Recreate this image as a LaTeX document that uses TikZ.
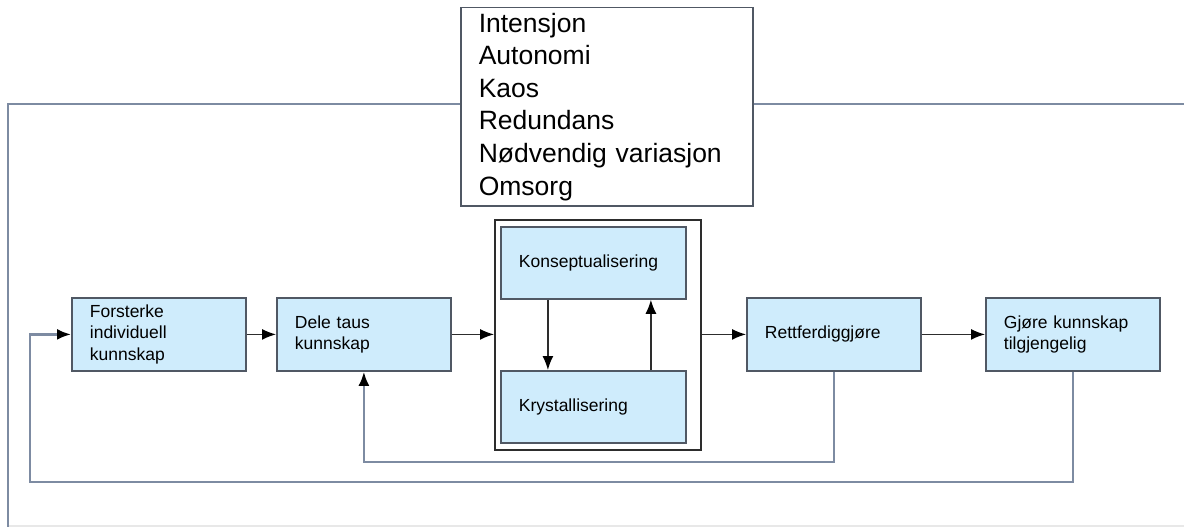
\documentclass[tikz,border=0pt]{standalone}
\usepackage{fontspec}
\setmainfont{Liberation Sans}
\usetikzlibrary{arrows.meta}
\definecolor{boxfill}{RGB}{207,236,252}
\definecolor{boxedge}{RGB}{80,88,100}
\definecolor{loopline}{RGB}{125,139,162}
\definecolor{darkline}{RGB}{45,45,45}
\begin{document}
\begin{tikzpicture}[x=1pt,y=-1pt,
  tip/.style={-{Latex[length=14pt,width=11pt,color=black]}},
  stepbox/.style={draw=boxedge, line width=1.8pt, fill=boxfill, anchor=north west,
    minimum height=73pt, text width=138pt, inner xsep=18pt, inner ysep=0pt,
    align=left, font=\fontsize{17.5}{21.5}\selectfont},
  innerbox/.style={stepbox, text width=149pt, minimum height=72pt},
  flow/.style={draw=darkline, line width=1.4pt, tip},
  loop/.style={draw=loopline, line width=2.4pt},
]
\useasboundingbox (0,0) rectangle (1184,527);

% frame corners
\coordinate (frameTL) at (8,104);
\coordinate (frameBL) at (8,527);
\coordinate (frameR) at (1184,104);
\coordinate (frameBR) at (1184,526);
\coordinate (rail) at (30,0);

% faint lower edge of the frame
\draw[gray!18, line width=1.2pt] (8,526) -- (frameBR);

% list of principles on top of the frame
\node[draw=boxedge, line width=1.5pt, fill=white, anchor=north west,
      minimum width=292pt, minimum height=198pt, text width=256pt,
      inner xsep=18pt, inner ysep=0pt, align=left,
      font=\fontsize{26.5}{32.6}\selectfont] (traits) at (460,7)
  {Intensjon\\Autonomi\\Kaos\\Redundans\\Nødvendig variasjon\\Omsorg};

\draw[loop] (traits.west |- frameTL) -- (frameTL) -- (frameBL);
\draw[loop] (traits.east |- frameR) -- (frameR);

% process steps
\node[stepbox] (b1) at (71,297) {Forsterke\\individuell\\kunnskap};
\node[stepbox] (b2) at (276,297) {Dele taus\\kunnskap};
\node[draw=darkline, line width=1.5pt, fill=white, anchor=north west,
      minimum width=206pt, minimum height=230pt, inner sep=0pt] (phase) at (494,219) {};
\node[innerbox] (b3) at (500,226) {Konseptualisering};
\node[innerbox] (b4) at (500,370) {Krystallisering};
\node[stepbox] (b5) at (746,297) {Rettferdiggjøre};
\node[stepbox] (b6) at (985,297) {Gjøre kunnskap\\tilgjengelig};

% forward flow
\draw[flow] (b1.east) -- (b2.west);
\draw[flow] (b2.east) -- (b2.east -| phase.west);
\draw[flow] (phase.east |- b5.west) -- (b5.west);
\draw[flow] (b5.east) -- (b6.west);
\draw[flow] ([xshift=-45.5pt]b3.south) -- ([xshift=-45.5pt]b4.north);
\draw[flow] ([xshift=57.5pt]b4.north) -- ([xshift=57.5pt]b3.south);

% feedback loops
\draw[loop, tip] (b5.south) -- ++(0,90) -| (b2.south);
\draw[loop, tip] (b6.south) -- ++(0,110) -| (rail |- b1.west) -- (b1.west);
\end{tikzpicture}
\end{document}
